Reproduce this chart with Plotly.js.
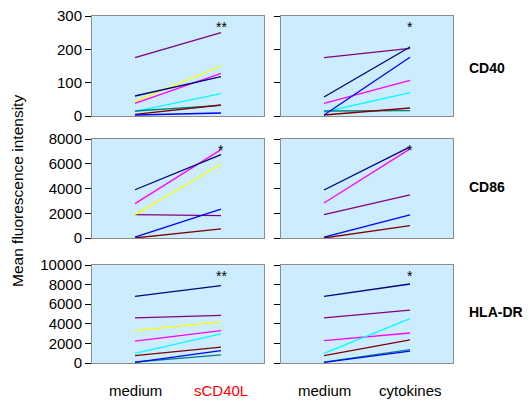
<!DOCTYPE html>
<html>
<head>
<meta charset="utf-8">
<script src="https://cdn.plot.ly/plotly-3.0.1.min.js"></script>
<style>html,body{margin:0;padding:0;background:#fff;}#chart{width:529px;height:401px;}</style>
</head>
<body>
<div id="chart"></div>
<script>
// Series colours (one per donor)
const seriesColors = ["#800080","#FFFF00","#FF00FF","#000080","#00FFFF","#008080","#800000","#0000FF"];

// Conditions
const leftConditions = ["medium","sCD40L"];
const rightConditions = ["medium","cytokines"];
const markers = ["CD40","CD86","HLA-DR"];

// CD40 - sCD40L
const cd40_sCD40L_medium = [175, 43, 38, 60, 14, 15, 5, 3];
const cd40_sCD40L_stim   = [250, 150, 128, 118, 67, 32, 33, 9];
// CD40 - cytokines
const cd40_cyto_medium = [175, null, 38, 57, 12, 15, 3, 3];
const cd40_cyto_stim   = [203, null, 107, 207, 70, 16, 24, 176];
// CD86 - sCD40L
const cd86_sCD40L_medium = [1890, 1890, 2780, 3900, null, null, 0, 80];
const cd86_sCD40L_stim   = [1800, 5960, 7140, 6740, null, null, 730, 2340];
// CD86 - cytokines
const cd86_cyto_medium = [1890, null, 2830, 3880, null, null, 0, 80];
const cd86_cyto_stim   = [3480, null, 7200, 7360, null, null, 1000, 1860];
// HLA-DR - sCD40L
const hla_sCD40L_medium = [4600, 3300, 2240, 6800, 990, 100, 750, 70];
const hla_sCD40L_stim   = [4860, 4200, 3300, 7900, 2960, 820, 1630, 1260];
// HLA-DR - cytokines
const hla_cyto_medium = [4600, null, 2280, 6800, 990, 100, 750, 70];
const hla_cyto_stim   = [5400, null, 3060, 8060, 4520, 1360, 2350, 1220];

// Significance marks
const significance = ["**", "*", "*", "*", "**", "*"];

// Axis ranges / ticks
const yRanges = [[0,300],[0,8000],[0,10000]];
const yDticks = [100, 2000, 2000];

const panels = [
  {med: cd40_sCD40L_medium, stim: cd40_sCD40L_stim, cond: leftConditions, row: 0, col: 0},
  {med: cd40_cyto_medium, stim: cd40_cyto_stim, cond: rightConditions, row: 0, col: 1},
  {med: cd86_sCD40L_medium, stim: cd86_sCD40L_stim, cond: leftConditions, row: 1, col: 0},
  {med: cd86_cyto_medium, stim: cd86_cyto_stim, cond: rightConditions, row: 1, col: 1},
  {med: hla_sCD40L_medium, stim: hla_sCD40L_stim, cond: leftConditions, row: 2, col: 0},
  {med: hla_cyto_medium, stim: hla_cyto_stim, cond: rightConditions, row: 2, col: 1}
];

const W = 529, H = 401;
const xDomains = [[92/W, 264/W], [281/W, 453/W]];
const yDomains = [[1-116/H, 1-16/H], [1-238/H, 1-139/H], [1-363/H, 1-265/H]];

const font = "Arial, 'Liberation Sans', sans-serif";
const traces = [];
const layout = {
  width: W, height: H,
  margin: {l:0, r:0, t:0, b:0},
  paper_bgcolor: "#ffffff",
  plot_bgcolor: "#CCECFF",
  showlegend: false,
  font: {family: font, size: 15, color: "#000"},
  annotations: [],
  shapes: []
};

panels.forEach((p, i) => {
  const n = i + 1;
  const xa = n === 1 ? "x" : "x" + n;
  const ya = n === 1 ? "y" : "y" + n;
  const xKey = n === 1 ? "xaxis" : "xaxis" + n;
  const yKey = n === 1 ? "yaxis" : "yaxis" + n;
  for (let s = 0; s < seriesColors.length; s++) {
    if (p.med[s] === null || p.stim[s] === null) continue;
    traces.push({
      type: "scatter", mode: "lines",
      x: [0, 1], y: [p.med[s], p.stim[s]],
      xaxis: xa, yaxis: ya,
      line: {color: seriesColors[s], width: 1.3},
      hoverinfo: "skip"
    });
  }
  layout[xKey] = {
    domain: xDomains[p.col], range: [-0.5, 1.5], anchor: ya,
    showticklabels: false, ticks: "", showgrid: false, zeroline: false,
    showline: true, linecolor: "#8c8c8c", linewidth: 1, mirror: true, fixedrange: true
  };
  layout[yKey] = {
    domain: yDomains[p.row], range: yRanges[p.row], dtick: yDticks[p.row], anchor: xa,
    tickformat: "d",
    showticklabels: p.col === 0, ticks: "outside", ticklen: 6, tickcolor: "#000", tickwidth: 1,
    tickfont: {family: font, size: 15, color: "#000"},
    showgrid: false, zeroline: false,
    showline: true, linecolor: "#8c8c8c", linewidth: 1, mirror: true, fixedrange: true
  };
  // significance
  layout.annotations.push({
    xref: xa, yref: ya, x: 1, y: yRanges[p.row][1],
    text: significance[i], showarrow: false, yanchor: "top", yshift: -1,
    font: {family: font, size: 14, color: "#000"}
  });
  // condition labels at bottom
  if (p.row === 2) {
    p.cond.forEach((c, k) => {
      layout.annotations.push({
        xref: xa, yref: "paper", x: k, y: 1 - 390/H,
        text: c, showarrow: false, yanchor: "middle",
        font: {family: font, size: 15, color: c === "sCD40L" ? "#FF0000" : "#000"}
      });
    });
  }
});

// Row labels
const rowLabelY = [68, 187, 312];
markers.forEach((m, r) => {
  layout.annotations.push({
    xref: "paper", yref: "paper", x: 467/W, y: 1 - rowLabelY[r]/H,
    xanchor: "left", yanchor: "middle", text: "<b>" + m + "</b>", showarrow: false,
    font: {family: font, size: 14, color: "#000"}
  });
});

// Y axis title
layout.annotations.push({
  xref: "paper", yref: "paper", x: 17/W, y: 1 - 191/H,
  text: "Mean fluorescence intensity", textangle: -90, showarrow: false,
  xanchor: "center", yanchor: "middle",
  font: {family: font, size: 15.5, color: "#000"}
});

Plotly.newPlot("chart", traces, layout, {staticPlot: true, displayModeBar: false});
</script>
</body>
</html>
